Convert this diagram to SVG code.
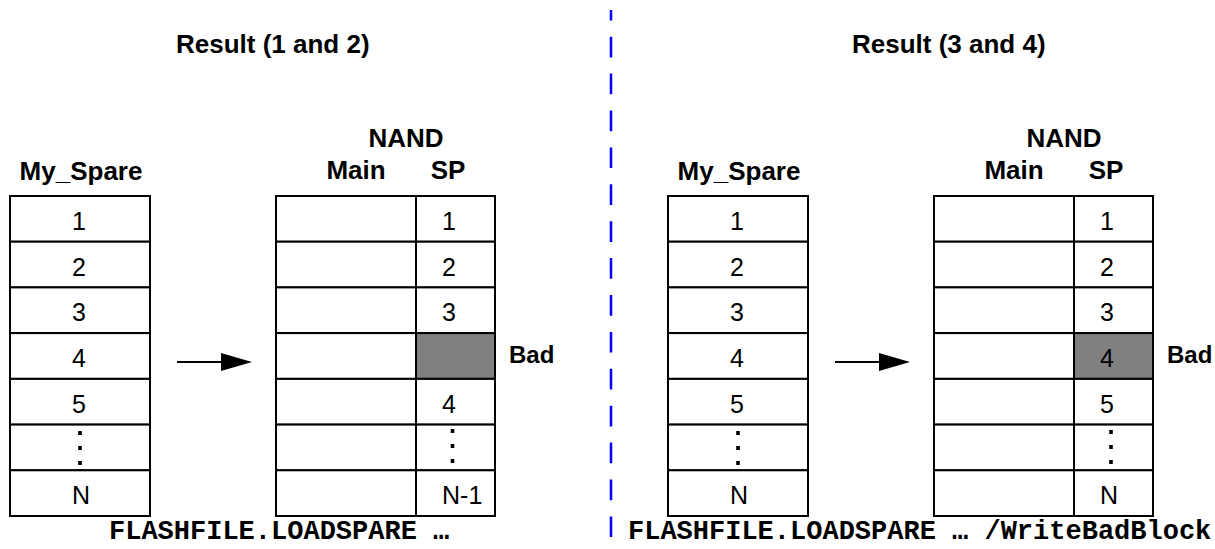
<svg xmlns="http://www.w3.org/2000/svg" width="1215" height="549" viewBox="0 0 1215 549">
<style>
.hdr{font-family:"Liberation Sans",Arial,sans-serif;font-weight:bold;font-size:26px;fill:#000}
.num{font-family:"Liberation Sans",Arial,sans-serif;font-size:25px;fill:#000}
.bad{font-family:"Liberation Sans",Arial,sans-serif;font-weight:bold;font-size:24px;fill:#000}
.cmd{font-family:"Liberation Mono","Courier New",monospace;font-weight:bold;font-size:27px;fill:#000}
.cell{fill:#fff;stroke:#000;stroke-width:2}
.badcell{fill:#808080;stroke:#000;stroke-width:2}
.conn{stroke:#000;stroke-width:2;fill:none}
</style>
<defs>
<g id="dots"><rect x="-1.8" y="-15" width="3.6" height="4"/><rect x="-1.8" y="0" width="3.6" height="4"/><rect x="-1.8" y="15" width="3.6" height="4"/></g>
</defs>
<rect width="1215" height="549" fill="#fff"/>
<line x1="611" y1="10" x2="611" y2="549" stroke="#0000ff" stroke-width="2.5" stroke-dasharray="20.7 16.2" stroke-dashoffset="10.2"/>

<g id="left-title"><text class="hdr" x="176" y="53">Result (1 and 2)</text></g>
<g id="right-title"><text class="hdr" x="852" y="53">Result (3 and 4)</text></g>

<g id="left-myspare">
<text class="hdr" x="81" y="180" text-anchor="middle">My_Spare</text>
<rect class="cell" x="10" y="196" width="140" height="45.7"/>
<rect class="cell" x="10" y="241.7" width="140" height="45.7"/>
<rect class="cell" x="10" y="287.4" width="140" height="45.7"/>
<rect class="cell" x="10" y="333.1" width="140" height="45.7"/>
<rect class="cell" x="10" y="378.9" width="140" height="45.7"/>
<rect class="cell" x="10" y="424.6" width="140" height="45.7"/>
<rect class="cell" x="10" y="470.3" width="140" height="45.7"/>
<text class="num" x="72" y="230">1</text>
<text class="num" x="72" y="276">2</text>
<text class="num" x="72" y="321">3</text>
<text class="num" x="72" y="367">4</text>
<text class="num" x="72" y="413">5</text>
<use href="#dots" x="80" y="446"/>
<text class="num" x="72" y="504">N</text>
</g>

<g id="left-nand">
<text class="hdr" x="406" y="147" text-anchor="middle">NAND</text>
<text class="hdr" x="356" y="179" text-anchor="middle">Main</text>
<text class="hdr" x="448" y="179" text-anchor="middle">SP</text>
<rect class="cell" x="276" y="196" width="140" height="45.7"/>
<rect class="cell" x="276" y="241.7" width="140" height="45.7"/>
<rect class="cell" x="276" y="287.4" width="140" height="45.7"/>
<rect class="cell" x="276" y="333.1" width="140" height="45.7"/>
<rect class="cell" x="276" y="378.9" width="140" height="45.7"/>
<rect class="cell" x="276" y="424.6" width="140" height="45.7"/>
<rect class="cell" x="276" y="470.3" width="140" height="45.7"/>
<rect class="cell" x="416" y="196" width="79" height="45.7"/>
<rect class="cell" x="416" y="241.7" width="79" height="45.7"/>
<rect class="cell" x="416" y="287.4" width="79" height="45.7"/>
<rect class="badcell" x="416" y="333.1" width="79" height="45.7"/>
<rect class="cell" x="416" y="378.9" width="79" height="45.7"/>
<rect class="cell" x="416" y="424.6" width="79" height="45.7"/>
<rect class="cell" x="416" y="470.3" width="79" height="45.7"/>
<text class="num" x="442" y="230">1</text>
<text class="num" x="442" y="276">2</text>
<text class="num" x="442" y="321">3</text>
<text class="num" x="442" y="413">4</text>
<use href="#dots" x="452.5" y="444"/>
<text class="num" x="442" y="504">N-1</text>
<text class="bad" x="509" y="363">Bad</text>
</g>

<g id="right-myspare">
<text class="hdr" x="739" y="180" text-anchor="middle">My_Spare</text>
<rect class="cell" x="668" y="196" width="140" height="45.7"/>
<rect class="cell" x="668" y="241.7" width="140" height="45.7"/>
<rect class="cell" x="668" y="287.4" width="140" height="45.7"/>
<rect class="cell" x="668" y="333.1" width="140" height="45.7"/>
<rect class="cell" x="668" y="378.9" width="140" height="45.7"/>
<rect class="cell" x="668" y="424.6" width="140" height="45.7"/>
<rect class="cell" x="668" y="470.3" width="140" height="45.7"/>
<text class="num" x="730" y="230">1</text>
<text class="num" x="730" y="276">2</text>
<text class="num" x="730" y="321">3</text>
<text class="num" x="730" y="367">4</text>
<text class="num" x="730" y="413">5</text>
<use href="#dots" x="738" y="446"/>
<text class="num" x="730" y="504">N</text>
</g>

<g id="right-nand">
<text class="hdr" x="1064" y="147" text-anchor="middle">NAND</text>
<text class="hdr" x="1014" y="179" text-anchor="middle">Main</text>
<text class="hdr" x="1106" y="179" text-anchor="middle">SP</text>
<rect class="cell" x="934" y="196" width="140" height="45.7"/>
<rect class="cell" x="934" y="241.7" width="140" height="45.7"/>
<rect class="cell" x="934" y="287.4" width="140" height="45.7"/>
<rect class="cell" x="934" y="333.1" width="140" height="45.7"/>
<rect class="cell" x="934" y="378.9" width="140" height="45.7"/>
<rect class="cell" x="934" y="424.6" width="140" height="45.7"/>
<rect class="cell" x="934" y="470.3" width="140" height="45.7"/>
<rect class="cell" x="1074" y="196" width="79" height="45.7"/>
<rect class="cell" x="1074" y="241.7" width="79" height="45.7"/>
<rect class="cell" x="1074" y="287.4" width="79" height="45.7"/>
<rect class="badcell" x="1074" y="333.1" width="79" height="45.7"/>
<rect class="cell" x="1074" y="378.9" width="79" height="45.7"/>
<rect class="cell" x="1074" y="424.6" width="79" height="45.7"/>
<rect class="cell" x="1074" y="470.3" width="79" height="45.7"/>
<text class="num" x="1100" y="230">1</text>
<text class="num" x="1100" y="276">2</text>
<text class="num" x="1100" y="321">3</text>
<text class="num" x="1100" y="367">4</text>
<text class="num" x="1100" y="413">5</text>
<use href="#dots" x="1111" y="445"/>
<text class="num" x="1100" y="504">N</text>
<text class="bad" x="1167" y="363">Bad</text>
</g>

<g id="connectors">
<line class="conn" x1="177" y1="362" x2="223" y2="362"/>
<polygon points="221,353 252,362 221,371" fill="#000"/>
<line class="conn" x1="835" y1="362" x2="881" y2="362"/>
<polygon points="879,353 910,362 879,371" fill="#000"/>
</g>

<g id="captions">
<text class="cmd" x="109" y="539">FLASHFILE.LOADSPARE …</text>
<text class="cmd" x="628" y="539">FLASHFILE.LOADSPARE … /WriteBadBlock</text>
</g>
</svg>
